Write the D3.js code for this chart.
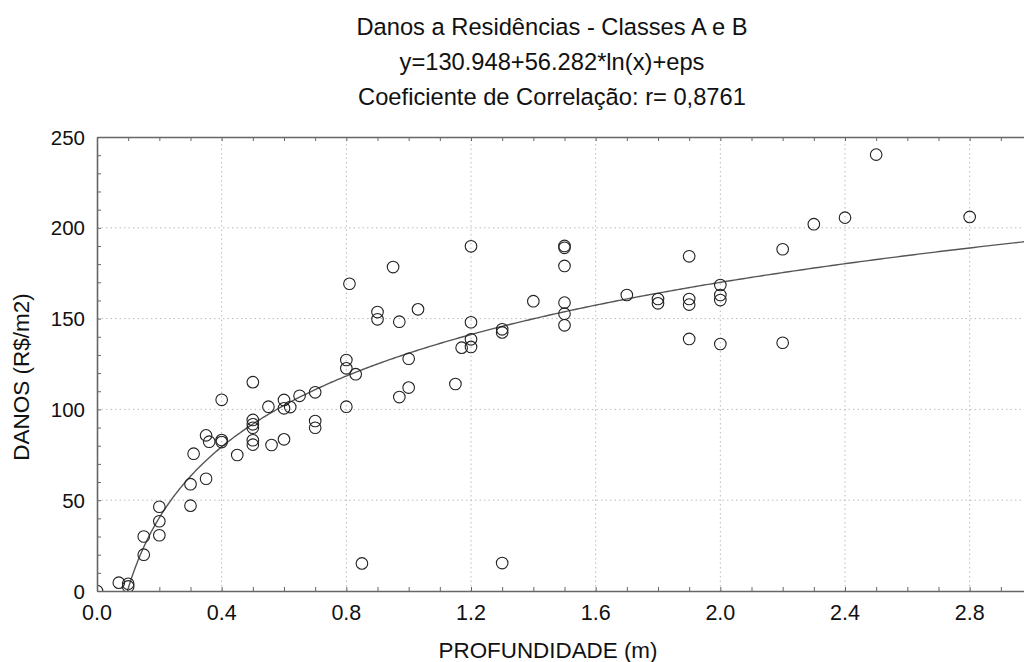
<!DOCTYPE html>
<html>
<head>
<meta charset="utf-8">
<script src="https://cdn.jsdelivr.net/npm/d3@7"></script>
<style>
  html, body { margin: 0; padding: 0; background: #fff; }
  svg { display: block; font-family: "Liberation Sans", Arial, sans-serif; }
</style>
</head>
<body>
<svg id="chart" width="1024" height="662"></svg>
<script>
// Depth (m) and damage (R$/m2) observations
const depth = [
  0, 0.07, 0.1, 0.1, 0.15, 0.15, 0.2, 0.2, 0.2, 0.3, 0.3, 0.31, 0.35, 0.35, 0.36,
  0.4, 0.4, 0.4, 0.45, 0.5, 0.5, 0.5, 0.5, 0.5, 0.5, 0.55, 0.56, 0.6, 0.6, 0.6,
  0.62, 0.65, 0.7, 0.7, 0.7, 0.8, 0.8, 0.8, 0.81, 0.83, 0.85, 0.9, 0.9, 0.95, 0.97,
  0.97, 1.0, 1.0, 1.03, 1.15, 1.17, 1.2, 1.2, 1.2, 1.2, 1.3, 1.3, 1.3, 1.4,
  1.5, 1.5, 1.5, 1.5, 1.5, 1.5, 1.7, 1.8, 1.8, 1.9, 1.9, 1.9, 1.9,
  2.0, 2.0, 2.0, 2.0, 2.2, 2.2, 2.3, 2.4, 2.5, 2.8
];
const damage = [
  0, 4.6, 4, 2.5, 20, 30, 46.4, 38.4, 30.7, 58.8, 47, 75.6, 61.8, 85.7, 82.2,
  83.1, 82, 105.3, 74.9, 115, 94.2, 91.8, 89.9, 83, 80.6, 101.5, 80.4, 105.2, 100.6, 83.5,
  101.3, 107.5, 109.4, 93.6, 89.9, 127.2, 122.6, 101.5, 169.2, 119.4, 15.2, 153.6, 149.6, 178.4, 148.3,
  106.8, 127.9, 112, 155.1, 114, 134, 189.8, 148, 138.6, 134.4, 144.1, 142.4, 15.4, 159.6,
  190, 189, 179, 158.8, 152.7, 146.3, 163, 160.8, 158.4, 184.3, 160.8, 157.7, 138.8,
  168.5, 163, 160.2, 136, 188.2, 136.7, 202, 205.6, 240.3, 206
];

// Fitted model y = a + b*ln(x)
const fitA = 130.948;
const fitB = 56.282;

const xTicks = [0.0, 0.4, 0.8, 1.2, 1.6, 2.0, 2.4, 2.8];
const yTicks = [0, 50, 100, 150, 200, 250];

const titleLines = [
  "Danos a Residências - Classes A e B",
  "y=130.948+56.282*ln(x)+eps",
  "Coeficiente de Correlação: r= 0,8761"
];
const xTitle = "PROFUNDIDADE (m)";
const yTitle = "DANOS (R$/m2)";

const svg = d3.select("#chart");
const margin = { left: 97, top: 137, bottom: 591 };

const x = d3.scaleLinear().domain([0, 3.0]).range([margin.left, 1032]);
const y = d3.scaleLinear().domain([0, 250]).range([margin.bottom, margin.top]);

const axisColor = "#666";
const gridColor = "#bbb";

// clip region for marks
svg.append("defs").append("clipPath").attr("id", "plotClip")
  .append("rect")
  .attr("x", x(0)).attr("y", y(250))
  .attr("width", x(3.0) - x(0)).attr("height", y(0) - y(250));

// dotted grid at major ticks
const grid = svg.append("g");
grid.selectAll("line.gx").data(xTicks.filter(d => d > 0)).join("line")
  .attr("x1", d => x(d)).attr("x2", d => x(d))
  .attr("y1", y(0)).attr("y2", y(250))
  .attr("stroke", gridColor).attr("stroke-width", 1)
  .attr("stroke-dasharray", "1.5,3");
grid.selectAll("line.gy").data(yTicks.filter(d => d > 0 && d < 250)).join("line")
  .attr("x1", x(0)).attr("x2", x(3.0))
  .attr("y1", d => y(d)).attr("y2", d => y(d))
  .attr("stroke", gridColor).attr("stroke-width", 1)
  .attr("stroke-dasharray", "1.5,3");

// fitted curve
const xStart = Math.exp(-fitA / fitB);
const curvePts = d3.range(0, 401).map(i => xStart + (3.0 - xStart) * Math.pow(i / 400, 2));
svg.append("path")
  .datum(curvePts)
  .attr("clip-path", "url(#plotClip)")
  .attr("fill", "none")
  .attr("stroke", "#555")
  .attr("stroke-width", 1.4)
  .attr("d", d3.line().x(d => x(d)).y(d => y(fitA + fitB * Math.log(d))));

// observations
svg.append("g").attr("clip-path", "url(#plotClip)")
  .selectAll("circle").data(depth.map((d, i) => [d, damage[i]])).join("circle")
  .attr("cx", d => x(d[0])).attr("cy", d => y(d[1]))
  .attr("r", 5.8)
  .attr("fill", "none")
  .attr("stroke", "#222")
  .attr("stroke-width", 1.1);

// axes with inward ticks
const minorX = d3.range(0, 31).map(i => i / 10);
const minorY = d3.range(0, 26).map(i => i * 10);

const xAxis = svg.append("g").attr("transform", `translate(0,${y(0)})`)
  .call(d3.axisBottom(x).tickValues(minorX).tickSizeInner(-4).tickSizeOuter(0).tickFormat(""));
const xTop = svg.append("g").attr("transform", `translate(0,${y(250)})`)
  .call(d3.axisTop(x).tickValues(minorX).tickSizeInner(-4).tickSizeOuter(0).tickFormat(""));
const yAxis = svg.append("g").attr("transform", `translate(${x(0)},0)`)
  .call(d3.axisLeft(y).tickValues(minorY).tickSizeInner(-4).tickSizeOuter(0).tickFormat(""));

[xAxis, xTop, yAxis].forEach(g => {
  g.select(".domain").attr("stroke", axisColor).attr("stroke-width", 1.6);
  g.selectAll(".tick line").attr("stroke", axisColor).attr("stroke-width", 1);
});

// tick labels
svg.append("g").selectAll("text").data(xTicks).join("text")
  .attr("x", d => x(d)).attr("y", 620)
  .attr("text-anchor", "middle")
  .attr("font-size", 21.5).attr("fill", "#111")
  .text(d => d3.format(".1f")(d));
svg.append("g").selectAll("text").data(yTicks).join("text")
  .attr("x", 85).attr("y", d => y(d) + 7.5)
  .attr("text-anchor", "end")
  .attr("font-size", 20.5).attr("fill", "#111")
  .text(d => d);

// axis titles
svg.append("text")
  .attr("x", 548).attr("y", 658)
  .attr("text-anchor", "middle")
  .attr("font-size", 22.4).attr("fill", "#111")
  .text(xTitle);
svg.append("text")
  .attr("transform", `translate(28.5,377) rotate(-90)`)
  .attr("text-anchor", "middle")
  .attr("font-size", 22.5).attr("fill", "#111")
  .text(yTitle);

// title block
svg.append("g").selectAll("text").data(titleLines).join("text")
  .attr("x", 552).attr("y", (d, i) => 35 + i * 35)
  .attr("text-anchor", "middle")
  .attr("font-size", 23.7).attr("fill", "#111")
  .text(d => d);
</script>
</body>
</html>
